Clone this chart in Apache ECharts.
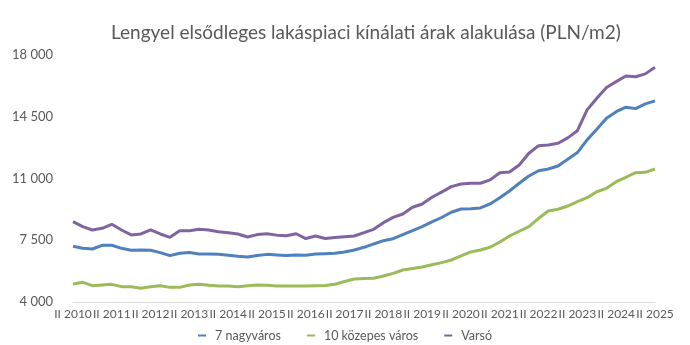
<!DOCTYPE html>
<html><head><meta charset="utf-8">
<script src="https://cdn.jsdelivr.net/npm/echarts@6/dist/echarts.min.js"></script>
<style>html,body{margin:0;padding:0;background:#fff}#c{width:690px;height:345px}</style>
</head><body><div id="c"></div>
<script>
const titleText = 'Lengyel elsődleges lakáspiaci kínálati árak alakulása (PLN/m2)';
const seriesNames = ['7 nagyváros', '10 közepes város', 'Varsó'];
const quarters = [
 'II 2010','III 2010','IV 2010','I 2011','II 2011','III 2011','IV 2011','I 2012',
 'II 2012','III 2012','IV 2012','I 2013','II 2013','III 2013','IV 2013','I 2014',
 'II 2014','III 2014','IV 2014','I 2015','II 2015','III 2015','IV 2015','I 2016',
 'II 2016','III 2016','IV 2016','I 2017','II 2017','III 2017','IV 2017','I 2018',
 'II 2018','III 2018','IV 2018','I 2019','II 2019','III 2019','IV 2019','I 2020',
 'II 2020','III 2020','IV 2020','I 2021','II 2021','III 2021','IV 2021','I 2022',
 'II 2022','III 2022','IV 2022','I 2023','II 2023','III 2023','IV 2023','I 2024',
 'II 2024','III 2024','IV 2024','I 2025','II 2025'];
const bigCities = [7158,7043,7005,7214,7214,7043,6930,6950,6930,6800,6630,6760,6800,6720,6720,6700,
 6648,6590,6550,6630,6700,6670,6630,6665,6648,6720,6740,6760,6835,6950,7100,7290,
 7475,7590,7817,8043,8270,8536,8790,9085,9270,9290,9330,9560,9910,10290,10730,11140,
 11440,11540,11710,12090,12470,13190,13790,14420,14790,15040,14960,15230,15400];
const midCities = [5020,5115,4926,4964,5000,4870,4870,4775,4870,4926,4830,4830,4964,5000,4945,4907,
 4907,4870,4926,4960,4950,4910,4900,4910,4900,4920,4935,5010,5160,5300,5330,5350,
 5474,5625,5814,5900,5980,6110,6230,6380,6608,6835,6950,7100,7400,7742,8010,8270,
 8745,9160,9255,9440,9690,9910,10250,10445,10820,11070,11330,11350,11540];
const warsaw = [8553,8270,8082,8176,8403,8082,7800,7855,8082,7855,7667,8043,8043,8120,8082,7987,
 7930,7855,7685,7820,7870,7790,7750,7870,7595,7740,7595,7655,7705,7742,7930,8120,
 8497,8800,8990,9370,9557,9936,10230,10540,10690,10730,10730,10920,11330,11370,11770,12430,
 12860,12900,13000,13300,13710,14890,15550,16160,16490,16810,16770,16930,17300];
const yMin = 4000, yMax = 18000, yStep = 3500;

const colors = ['#4F81BD', '#9BBB59', '#8064A2'];
const font = 'Lato, "Open Sans", sans-serif';
const chart = echarts.init(document.getElementById('c'));
const mk = (name, data, color) => ({
  name, type: 'line', data, symbol: 'none', smooth: false,
  lineStyle: { color, width: 3 }, itemStyle: { color }
});
chart.setOption({
  animation: false,
  backgroundColor: '#fff',
  title: { text: titleText, left: 106, top: 18,
    textStyle: { fontFamily: font, fontSize: 19, fontWeight: 'normal', color: '#595959' } },
  legend: { top: 324, left: 'center', icon: 'rect', itemWidth: 8, itemHeight: 2, itemGap: 26,
    textStyle: { fontFamily: font, fontSize: 12.5, color: '#595959', padding: [0,0,0,4] },
    data: seriesNames },
  grid: { left: 73, right: 35, top: 55, bottom: 43, containLabel: false },
  xAxis: { type: 'category', data: quarters, boundaryGap: false,
    axisLine: { lineStyle: { color: '#d9d9d9', width: 1 } },
    axisTick: { show: false },
    axisLabel: { interval: 3, hideOverlap: false, margin: 6, fontFamily: font, fontSize: 12, color: '#595959' } },
  yAxis: { type: 'value', min: yMin, max: yMax, interval: yStep,
    axisLine: { show: false }, axisTick: { show: false }, splitLine: { show: false },
    axisLabel: { margin: 20, fontFamily: font, fontSize: 13, color: '#595959',
      formatter: v => String(v).replace(/\B(?=(\d{3})+(?!\d))/g, ' ') } },
  series: [mk(seriesNames[0], bigCities, colors[0]), mk(seriesNames[1], midCities, colors[1]), mk(seriesNames[2], warsaw, colors[2])]
});
</script></body></html>
